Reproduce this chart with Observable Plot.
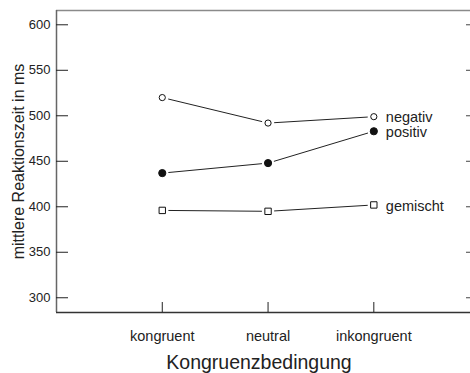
<!DOCTYPE html>
<html><head><meta charset="utf-8">
<script src="https://cdn.jsdelivr.net/npm/d3@7"></script>
<script src="https://cdn.jsdelivr.net/npm/@observablehq/plot@0.6"></script>
<style>body{margin:0;background:#fff} svg{display:block}</style>
</head><body><div id="chart"></div>
<script>
const conditions = ["kongruent", "neutral", "inkongruent"];
const seriesNames = ["negativ", "positiv", "gemischt"];
const negativ = [520, 492, 499];
const positiv = [437, 448, 483];
const gemischt = [396, 395, 402];
const yTicks = [300, 350, 400, 450, 500, 550, 600];
const xLabel = "Kongruenzbedingung";
const yLabel = "mittlere Reaktionszeit in ms";
const xDomain = [0, 3.914];
const yDomain = [283.8, 615.7];

const valuesBySeries = {negativ, positiv, gemischt};
const symbolStyle = {
  negativ: {symbol: "circle", fill: "white", r: 3.1},
  positiv: {symbol: "circle", fill: "#111", r: 3.6},
  gemischt: {symbol: "square", fill: "white", r: 3.6}
};

const rows = [];
const segments = [];
for (const s of seriesNames) {
  const v = valuesBySeries[s];
  v.forEach((val, i) => rows.push({series: s, pos: i + 1, cond: conditions[i], value: val}));
  for (let i = 0; i < v.length - 1; i++) {
    segments.push({series: s, x1: i + 1, y1: v[i], x2: i + 2, y2: v[i + 1]});
  }
}
const lastRows = rows.filter(d => d.pos === conditions.length);

const dotMarks = seriesNames.map(s => Plot.dot(rows.filter(d => d.series === s), {
  x: "pos", y: "value", symbol: () => symbolStyle[s].symbol, r: symbolStyle[s].r,
  fill: symbolStyle[s].fill, stroke: "#111", strokeWidth: 1
}));

const chart = Plot.plot({
  width: 470,
  height: 373,
  marginLeft: 56,
  marginRight: 0,
  marginTop: 10,
  marginBottom: 61,
  style: {fontFamily: "'Liberation Sans', Arial, sans-serif", color: "#222", background: "white"},
  x: {type: "linear", domain: xDomain},
  y: {type: "linear", domain: yDomain},
  symbol: {type: "identity"},
  marks: [
    Plot.ruleY([yDomain[1]], {y: d => d, stroke: "#8a8a8a", strokeWidth: 1.5}),
    Plot.ruleX([xDomain[0]], {x: d => d, stroke: "#666", strokeWidth: 1.5}),
    Plot.ruleY([yDomain[0]], {y: d => d, stroke: "#333", strokeWidth: 1.5}),
    Plot.axisY({ticks: yTicks, tickSize: -12, tickPadding: 18, label: null, fontSize: 13, stroke: "#222"}),
    Plot.axisY({anchor: "right", ticks: yTicks, tickSize: -5, tickFormat: () => "", label: null, stroke: "#444"}),
    Plot.axisX({ticks: [1, 2, 3], tickFormat: d => conditions[d - 1], tickSize: -10, tickPadding: 28, label: null, fontSize: 14.5, stroke: "#222"}),
    Plot.arrow(segments, {x1: "x1", y1: "y1", x2: "x2", y2: "y2", headLength: 0, inset: 6.5, stroke: "#222", strokeWidth: 1}),
    ...dotMarks,
    Plot.text(lastRows, {x: "pos", y: "value", text: "series", dx: 12, dy: 1, textAnchor: "start", fontSize: 14.5, fill: "#222"}),
    Plot.text([xLabel], {text: d => d, frameAnchor: "bottom", textAnchor: "middle", dx: -4.5, dy: 56, fontSize: 19.5, fill: "#222"}),
    Plot.text([yLabel], {text: d => d, frameAnchor: "left", textAnchor: "middle", dx: -38, rotate: -90, fontSize: 16, fill: "#222"})
  ]
});
document.getElementById("chart").appendChild(chart);
</script>
</body></html>
